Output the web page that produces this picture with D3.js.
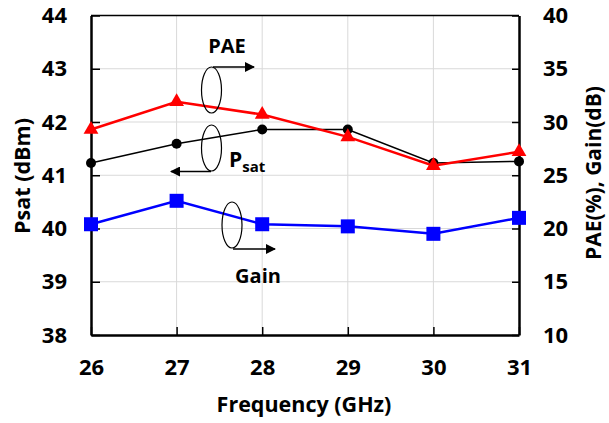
<!DOCTYPE html>
<html>
<head>
<meta charset="utf-8">
<script src="https://cdn.jsdelivr.net/npm/d3@7"></script>
<style>
html,body{margin:0;padding:0;background:#fff;}
svg{display:block;font-family:"Open Sans",sans-serif;font-weight:bold;}
</style>
</head>
<body>
<svg id="chart" width="609" height="423"></svg>
<script>
// ---- data ----
const freqs = [26, 27, 28, 29, 30, 31];
const psat = [41.23, 41.59, 41.86, 41.86, 41.23, 41.26];   // dBm, left axis
const pae  = [29.3, 31.9, 30.7, 28.6, 25.9, 27.2];          // %, right axis
const gain = [20.4, 22.6, 20.4, 20.2, 19.5, 21.0];          // dB, right axis
const xTicks = [26, 27, 28, 29, 30, 31];
const leftTicks = [38, 39, 40, 41, 42, 43, 44];
const rightTicks = [10, 15, 20, 25, 30, 35, 40];

const svg = d3.select("#chart");
const L = 91, R = 519, T = 15.5, B = 335;
const FONT = "'Open Sans', sans-serif";

const x = d3.scaleLinear().domain([26, 31]).range([L, R]);
const yL = d3.scaleLinear().domain([38, 44]).range([B, T]);
const yR = d3.scaleLinear().domain([10, 40]).range([B, T]);

// grid
const grid = svg.append("g").attr("stroke", "#d9d9d9").attr("stroke-width", 1);
grid.selectAll("line.v").data(xTicks.slice(1, -1)).join("line")
  .attr("x1", d => x(d)).attr("x2", d => x(d)).attr("y1", T).attr("y2", B);
grid.selectAll("line.h").data(leftTicks.slice(1, -1)).join("line")
  .attr("x1", L).attr("x2", R).attr("y1", d => yL(d)).attr("y2", d => yL(d));

// top border
svg.append("line").attr("x1", L).attr("x2", R).attr("y1", T).attr("y2", T)
  .attr("stroke", "#000").attr("stroke-width", 1.5);

function styleAxis(g) {
  g.select(".domain").attr("stroke", "#000").attr("stroke-width", 2.5);
  g.selectAll(".tick line").attr("stroke", "#000").attr("stroke-width", 1.5);
  g.selectAll(".tick text").attr("font-size", 22).attr("font-weight", "bold")
    .attr("font-family", FONT).attr("fill", "#000");
}

// axes
const ax = svg.append("g").attr("transform", `translate(0,${B})`)
  .call(d3.axisBottom(x).tickValues(xTicks).tickFormat(d3.format("d")).tickSizeInner(-8).tickSizeOuter(0).tickPadding(24));
styleAxis(ax);

const ayl = svg.append("g").attr("transform", `translate(${L},0)`)
  .call(d3.axisLeft(yL).tickValues(leftTicks).tickFormat(d3.format("d")).tickSizeInner(-9).tickSizeOuter(0).tickPadding(24));
styleAxis(ayl);

const ayr = svg.append("g").attr("transform", `translate(${R},0)`)
  .call(d3.axisRight(yR).tickValues(rightTicks).tickFormat(d3.format("d")).tickSizeInner(-7).tickSizeOuter(0).tickPadding(24));
styleAxis(ayr);

// axis titles
svg.append("text").attr("x", 304).attr("y", 412).attr("text-anchor", "middle")
  .attr("font-size", 21.5).text("Frequency (GHz)");
svg.append("text").attr("transform", "translate(30,176) rotate(-90)").attr("text-anchor", "middle")
  .attr("font-size", 21.5).text("Psat (dBm)");
svg.append("text").attr("transform", "translate(601,173) rotate(-90)").attr("text-anchor", "middle")
  .attr("font-size", 21).text("PAE(%), Gain(dB)");

// series
const lineL = d3.line().x((d, i) => x(freqs[i])).y(d => yL(d));
const lineR = d3.line().x((d, i) => x(freqs[i])).y(d => yR(d));

svg.append("path").datum(psat).attr("d", lineL).attr("fill", "none")
  .attr("stroke", "#000").attr("stroke-width", 1.5);
svg.selectAll("circle.psat").data(psat).join("circle")
  .attr("cx", (d, i) => x(freqs[i])).attr("cy", d => yL(d)).attr("r", 5).attr("fill", "#000");

svg.append("path").datum(pae).attr("d", lineR).attr("fill", "none")
  .attr("stroke", "#ff0000").attr("stroke-width", 2.5);
const tri = d3.symbol().type(d3.symbolTriangle).size(95);
svg.selectAll("path.pae").data(pae).join("path")
  .attr("transform", (d, i) => `translate(${x(freqs[i])},${yR(d)})`)
  .attr("d", tri).attr("fill", "#ff0000");

svg.append("path").datum(gain).attr("d", lineR).attr("fill", "none")
  .attr("stroke", "#0000ff").attr("stroke-width", 2.5);
svg.selectAll("rect.gain").data(gain).join("rect")
  .attr("x", (d, i) => x(freqs[i]) - 7).attr("y", d => yR(d) - 7)
  .attr("width", 14).attr("height", 14).attr("fill", "#0000ff");

// annotations
const defs = svg.append("defs");
defs.append("marker").attr("id", "arr").attr("viewBox", "0 0 10 10").attr("refX", 9).attr("refY", 5)
  .attr("markerWidth", 10).attr("markerHeight", 10).attr("markerUnits", "userSpaceOnUse").attr("orient", "auto")
  .append("path").attr("d", "M0,0 L10,5 L0,10 Z").attr("fill", "#000");

function annot(cx, cy, ax1, ay, ax2) {
  svg.append("ellipse").attr("cx", cx).attr("cy", cy).attr("rx", 10).attr("ry", 23)
    .attr("fill", "none").attr("stroke", "#000").attr("stroke-width", 1.2);
  svg.append("line").attr("x1", ax1).attr("y1", ay).attr("x2", ax2).attr("y2", ay)
    .attr("stroke", "#000").attr("stroke-width", 1.5).attr("marker-end", "url(#arr)");
}
annot(211.5, 90, 213, 67, 254);
annot(211.5, 148, 211, 171.5, 171);
annot(232, 225, 233, 249, 275);

svg.append("text").attr("x", 227).attr("y", 53).attr("text-anchor", "middle").attr("font-size", 20).text("PAE");
const ps = svg.append("text").attr("x", 229).attr("y", 167).attr("font-size", 21);
ps.append("tspan").text("P");
ps.append("tspan").attr("font-size", 15).attr("dy", 5).text("sat");
svg.append("text").attr("x", 258).attr("y", 283).attr("text-anchor", "middle").attr("font-size", 20).text("Gain");
</script>
</body>
</html>
